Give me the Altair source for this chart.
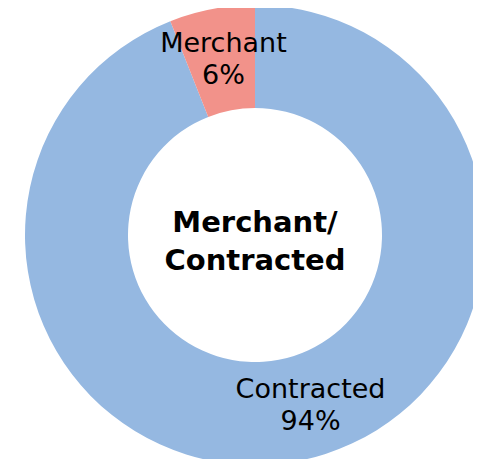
import altair as alt
import pandas as pd

categories = ["Contracted", "Merchant"]
shares = [94, 6]
labels = ["Contracted\n94%", "Merchant\n6%"]
colors = ["#95B8E1", "#F2928A"]
center_title = "Merchant/\nContracted"

df = pd.DataFrame({"category": categories, "share": shares, "label": labels,
                   "order": list(range(len(categories)))})

CX, CY = 247, 227
theta_scale = alt.Scale(domain=[0, 100])
base = alt.Chart(df)

arc = base.mark_arc(innerRadius=127, outerRadius=230).encode(
    theta=alt.Theta("share:Q", stack=True, scale=theta_scale),
    order=alt.Order("order:Q"),
    color=alt.Color("category:N", scale=alt.Scale(domain=categories, range=colors), legend=None),
    x=alt.value(CX), y=alt.value(CY),
)

stacked = base.transform_stack(
    stack="share", as_=["s0", "s1"], groupby=[], sort=[alt.SortField("order")]
).transform_calculate(mid="(datum.s0 + datum.s1) / 2")

def lbl(cat, dx, dy):
    return stacked.mark_text(radius=179, lineBreak="\n", lineHeight=32, font="DejaVu Sans",
                             fontSize=27, color="#000000", dx=dx, dy=dy,
                             align="center", baseline="middle").encode(
        theta=alt.Theta("mid:Q", stack=None, scale=theta_scale),
        text="label:N",
        x=alt.value(CX), y=alt.value(CY),
    ).transform_filter(alt.datum.category == cat)

lab_c = lbl("Contracted", 22, -21)
lab_m = lbl("Merchant", 2, -15)

title = alt.Chart(pd.DataFrame({"t": [center_title]})).mark_text(
    lineBreak="\n", lineHeight=38, font="DejaVu Sans", fontSize=29, fontWeight="bold",
    color="#000000", align="center", baseline="middle", dy=-12).encode(
    text="t:N", x=alt.value(CX), y=alt.value(CY))

chart = alt.layer(arc, lab_c, lab_m, title).properties(
    width=465, height=451, padding=0, autosize=alt.AutoSizeParams(type="none")
).configure_view(stroke=None)

chart.save("out.html", embed_options={"renderer": "svg", "actions": False})
